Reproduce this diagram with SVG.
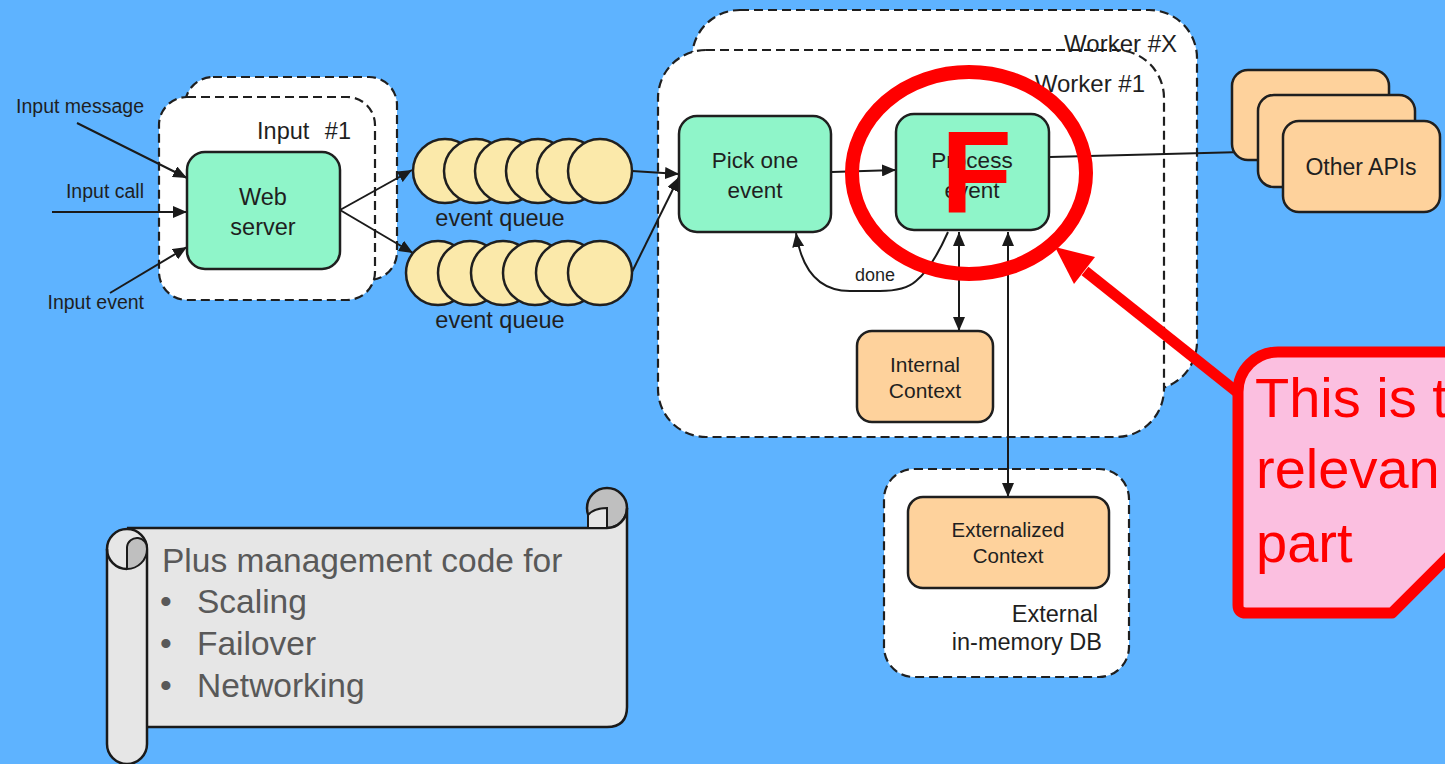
<svg xmlns="http://www.w3.org/2000/svg" width="1445" height="764" viewBox="0 0 1445 764">
<defs>
<style>
.dash{fill:#fff;stroke:#1f1f1f;stroke-width:2.2;stroke-dasharray:9 5}
.green{fill:#8ff5c9;stroke:#1f1f1f;stroke-width:2.5}
.orange{fill:#fed29c;stroke:#1f1f1f;stroke-width:2.5}
.q{fill:#fbe9aa;stroke:#1f1f1f;stroke-width:2.5}
.t{font-family:"Liberation Sans",Arial,sans-serif;fill:#1f1f1f}
.m{text-anchor:middle}
.e{text-anchor:end}
.c{stroke:#1a1a1a;stroke-width:2;fill:none}
.red{font-family:"Liberation Sans",Arial,sans-serif;fill:#ff0000}
</style>
<marker id="ah" markerUnits="userSpaceOnUse" markerWidth="14" markerHeight="12" refX="14" refY="6" orient="auto-start-reverse">
<path d="M0,0 L14,6 L0,12 Z" fill="#1a1a1a"/>
</marker>
</defs>
<rect width="1445" height="764" fill="#5eb3ff"/>

<g id="input-back"><rect class="dash" x="185" y="77" width="212" height="203" rx="28"/></g>
<g id="input-front"><rect class="dash" x="159" y="97" width="216" height="203" rx="28"/>
<text class="t e" x="351" y="139" font-size="23.5" word-spacing="9">Input #1</text></g>

<g id="worker-x"><rect class="dash" x="692" y="10" width="505" height="380" rx="48"/></g>
<g id="worker-1"><rect class="dash" x="658" y="50" width="506" height="387" rx="48"/>
<text class="t e" x="1145" y="92" font-size="24">Worker #1</text></g>
<g id="worker-x-label"><text class="t e" x="1177" y="52" font-size="24">Worker #X</text></g>

<g id="external-db"><rect class="dash" x="884" y="469" width="245" height="208" rx="30"/>
<text class="t e" x="1098" y="622" font-size="23.5">External</text>
<text class="t e" x="1102" y="650" font-size="23.5">in-memory DB</text></g>

<g id="input-labels">
<text class="t e" x="144" y="113" font-size="19.5">Input message</text>
<text class="t e" x="144" y="198" font-size="19.5">Input call</text>
<text class="t e" x="144" y="309" font-size="19.5">Input event</text>
</g>

<g id="connectors">
<path class="c" d="M77,123 L187,178" marker-end="url(#ah)"/>
<path class="c" d="M52,212 L187,212" marker-end="url(#ah)"/>
<path class="c" d="M110,293 L187,247" marker-end="url(#ah)"/>
<path class="c" d="M340,210 L412,170" marker-end="url(#ah)"/>
<path class="c" d="M340,210 L413,253" marker-end="url(#ah)"/>
<path class="c" d="M632,171 L679,174" marker-end="url(#ah)"/>
<path class="c" d="M632,272 L679,177" marker-end="url(#ah)"/>
<path class="c" d="M832,172 L896,170" marker-end="url(#ah)"/>
<path class="c" d="M948,232 Q932,268 916,281 Q905,291 880,291 L850,291 Q805,291 796,233" marker-end="url(#ah)"/>
<text class="t m" x="875" y="281" font-size="18">done</text>
<path class="c" d="M959,232 L959,331" marker-start="url(#ah)" marker-end="url(#ah)"/>
<path class="c" d="M1008,232 L1008,497" marker-start="url(#ah)" marker-end="url(#ah)"/>
<path class="c" d="M1050,157 L1283,151"/>
</g>

<g id="web-server"><rect class="green" x="187" y="152" width="153" height="117" rx="18"/>
<text class="t m" x="263" y="205" font-size="23.5">Web</text>
<text class="t m" x="263" y="235" font-size="23.5">server</text></g>

<g id="queue-top">
<circle class="q" cx="445" cy="171" r="32"/><circle class="q" cx="476" cy="171" r="32"/><circle class="q" cx="507" cy="171" r="32"/><circle class="q" cx="538" cy="171" r="32"/><circle class="q" cx="569" cy="171" r="32"/><circle class="q" cx="600" cy="171" r="32"/>
<text class="t m" x="500" y="226" font-size="23.5">event queue</text></g>
<g id="queue-bottom">
<circle class="q" cx="438" cy="273" r="32"/><circle class="q" cx="470" cy="273" r="32"/><circle class="q" cx="503" cy="273" r="32"/><circle class="q" cx="535" cy="273" r="32"/><circle class="q" cx="568" cy="273" r="32"/><circle class="q" cx="600" cy="273" r="32"/>
<text class="t m" x="500" y="328" font-size="23.5">event queue</text></g>

<g id="pick-one-event"><rect class="green" x="679" y="116" width="152" height="116" rx="18"/>
<text class="t m" x="755" y="168" font-size="22.5">Pick one</text>
<text class="t m" x="755" y="198" font-size="22.5">event</text></g>

<g id="process-event"><rect class="green" x="896" y="114" width="153" height="116" rx="18"/>
<text class="t m" x="972" y="168" font-size="22.5">Process</text>
<text class="t m" x="972" y="198" font-size="22.5">event</text></g>

<g id="internal-context"><rect class="orange" x="857" y="331" width="136" height="91" rx="15"/>
<text class="t m" x="925" y="372" font-size="21">Internal</text>
<text class="t m" x="925" y="398" font-size="21">Context</text></g>

<g id="externalized-context"><rect class="orange" x="908" y="497" width="201" height="91" rx="15"/>
<text class="t m" x="1008" y="537" font-size="20.5">Externalized</text>
<text class="t m" x="1008" y="563" font-size="20.5">Context</text></g>

<g id="other-apis">
<rect class="orange" x="1232" y="70" width="157" height="90" rx="16"/>
<rect class="orange" x="1258" y="95" width="157" height="92" rx="16"/>
<rect class="orange" x="1283" y="121" width="157" height="91" rx="16"/>
<text class="t m" x="1361" y="175" font-size="23">Other APIs</text></g>

<g id="scroll">
<circle cx="607" cy="508" r="20" fill="#bfbfbf" stroke="#1a1a1a" stroke-width="2.5"/>
<path d="M147,727 H607 Q627,727 627,707 V508 A20,20 0 0 1 607,528 H127 V600 Z" fill="#e6e6e6" stroke="none"/>
<path d="M127,528 H607 A20,20 0 0 0 627,508 V707 Q627,727 607,727 H147" fill="none" stroke="#1a1a1a" stroke-width="2.5"/>
<path d="M588,528 V515 Q594,508 607,508 V528 Z" fill="#e6e6e6" stroke="#1a1a1a" stroke-width="2"/>
<path d="M107,549 A20,20 0 0 1 147,549 V744 A20,20 0 0 1 107,744 Z" fill="#e6e6e6" stroke="#1a1a1a" stroke-width="2.5"/>
<path d="M127,569 V547 A10,10 0 0 1 147,549 A20,20 0 0 1 127,569 Z" fill="#bfbfbf" stroke="#1a1a1a" stroke-width="2"/>
<path d="M107,549 A20,20 0 0 0 127,569" fill="none" stroke="#1a1a1a" stroke-width="2.5"/>
<g font-family="Liberation Sans,Arial,sans-serif" font-size="33.5" fill="#595959">
<text x="162" y="572">Plus management code for</text>
<text x="160" y="613">•</text><text x="197" y="613">Scaling</text>
<text x="160" y="655">•</text><text x="197" y="655">Failover</text>
<text x="160" y="697">•</text><text x="197" y="697">Networking</text>
</g></g>

<g id="annotation">
<ellipse cx="969" cy="173" rx="117" ry="101" fill="none" stroke="#ff0000" stroke-width="14"/>
<text class="red" x="941" y="213" font-size="116" font-weight="bold">F</text>
<path d="M1237,392 L1085,271" stroke="#ff0000" stroke-width="11" fill="none"/>
<polygon points="1055,247 1095,257 1074,284" fill="#ff0000"/>
<path d="M1238,392 A40,40 0 0 1 1278,352 H1470 V535 L1392,613 H1246 Q1238,613 1238,605 Z" fill="#fbbfe0" stroke="#ff0000" stroke-width="11" stroke-linejoin="round"/>
<text class="red" x="1255" y="417" font-size="56">This is t</text>
<text class="red" x="1256" y="488" font-size="56">relevan</text>
<text class="red" x="1256" y="562" font-size="56">part</text>
</g>
</svg>
